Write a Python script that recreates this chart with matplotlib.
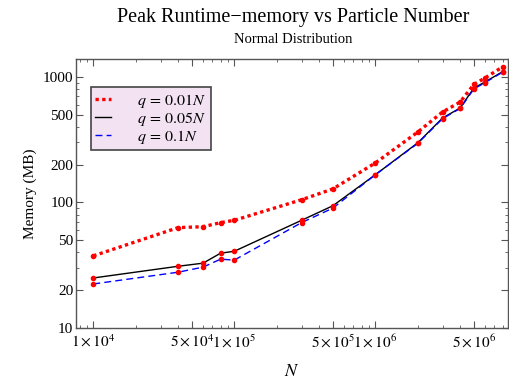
import numpy as np
import matplotlib
matplotlib.use("Agg")
import matplotlib.pyplot as plt
from matplotlib.ticker import FixedLocator, FixedFormatter, NullFormatter

plt.rcParams['font.family'] = ['Liberation Serif', 'DejaVu Serif']
plt.rcParams['mathtext.fontset'] = 'stix'

# particle numbers and peak memory (MB)
N = [1e4, 4e4, 6e4, 8e4, 1e5, 3e5, 5e5, 1e6, 2e6, 3e6, 4e6, 5e6, 6e6, 8e6]
mem_q001 = [37.5, 63, 64, 69, 72, 105, 128, 206, 363, 525, 630, 870, 980, 1200]
mem_q005 = [25, 31, 32.8, 39.4, 40.8, 72, 94, 166, 298, 470, 565, 815, 910, 1100]
mem_q01 = [22.4, 27.8, 30.5, 35.3, 34.7, 69, 90, 166, 295, 465, 560, 800, 900, 1090]

x_ticks = [1e4, 5e4, 1e5, 5e5, 1e6, 5e6]
x_labels = [r"$1\times10^{4}$", r"$5\times10^{4}$", r"$1\times10^{5}$",
            r"$5\times10^{5}$", r"$1\times10^{6}$", r"$5\times10^{6}$"]
y_ticks = [10, 20, 50, 100, 200, 500, 1000]
y_labels = ["10", "20", "50", "100", "200", "500", "1000"]

fig = plt.figure(figsize=(5.1, 3.8), dpi=100)
ax = fig.add_axes([0.149, 0.137, 0.847, 0.708])

ax.plot(N, mem_q001, color="red", ls=(0, (1, 1)), lw=2.4, label=r"$q\,=\,0.01N$")
ax.plot(N, mem_q005, color="black", ls="-", lw=1.0, label=r"$q\,=\,0.05N$")
ax.plot(N, mem_q01, color="blue", ls=(0, (5, 3)), lw=1.0, label=r"$q\,=\,0.1N$")
for series in (mem_q001, mem_q005, mem_q01):
    ax.plot(N, series, ls="none", marker="o", ms=3, color="red")

ax.set_xscale("log")
ax.set_yscale("log")
ax.set_xlim(7540, 8.73e6)
ax.set_ylim(10, 1390)

ax.xaxis.set_major_locator(FixedLocator(x_ticks))
ax.xaxis.set_major_formatter(FixedFormatter(x_labels))
x_minor = [m * 10.0**e for e in range(3, 7) for m in range(2, 10) if m != 5]
ax.xaxis.set_minor_locator(FixedLocator(x_minor))
ax.xaxis.set_minor_formatter(NullFormatter())

ax.yaxis.set_major_locator(FixedLocator(y_ticks))
ax.yaxis.set_major_formatter(FixedFormatter(y_labels))
y_minor = [m * 10.0**e for e in range(1, 4) for m in range(3, 10) if m != 5]
ax.yaxis.set_minor_locator(FixedLocator(y_minor))
ax.yaxis.set_minor_formatter(NullFormatter())

ax.tick_params(which="both", direction="in", top=True, right=True,
               color="#555555", labelsize=11, pad=2)
ax.tick_params(axis="x", which="major", pad=4)
ax.tick_params(which="major", length=5, width=0.8)
ax.tick_params(which="minor", length=2.5, width=0.6)
for s in ax.spines.values():
    s.set_color("#555555")
    s.set_linewidth(1.0)

ax.set_xlabel(r"$N$", fontsize=13, labelpad=9)
ax.set_ylabel("Memory (MB)", fontsize=11, labelpad=4)

fig.text(0.575, 0.954, "Peak Runtime\u2212memory vs Particle Number",
         ha="center", va="center", fontsize=14.5)
fig.text(0.575, 0.897, "Normal Distribution", ha="center", va="center", fontsize=10.5)

leg = ax.legend(loc="upper left", bbox_to_anchor=(0.034, 0.896), fontsize=11.5,
                frameon=True, fancybox=False, handlelength=1.0, handletextpad=1.6,
                borderpad=0.3, labelspacing=0.0, borderaxespad=0)
leg.get_frame().set_facecolor("#f2e2f2")
leg.get_frame().set_edgecolor("#444444")
leg.get_frame().set_linewidth(1.2)
leg.get_frame().set_alpha(1)

fig.savefig("out.png", dpi=100)
